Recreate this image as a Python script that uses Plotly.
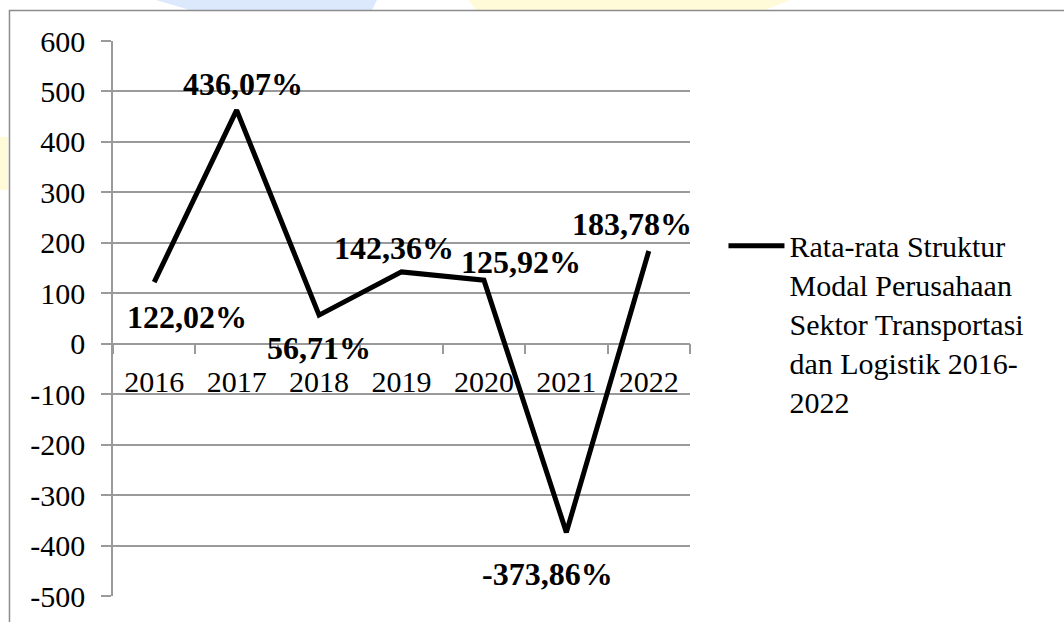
import plotly.graph_objects as go

years = ["2016", "2017", "2018", "2019", "2020", "2021", "2022"]
values = [122.02, 463.0, 56.71, 142.36, 125.92, -373.86, 183.78]
labels = ["122,02%", "436,07%", "56,71%", "142,36%", "125,92%", "-373,86%", "183,78%"]
series_name = "Rata-rata Struktur<br>Modal Perusahaan<br>Sektor Transportasi<br>dan Logistik 2016-<br>2022"
y_ticks = [600, 500, 400, 300, 200, 100, 0, -100, -200, -300, -400, -500]
y_tick_text = ["600", "500", "400", "300", "200", "100", "0", "-100", "-200", "-300", "-400", "-500"]

# label offsets in pixels (styling)
label_dx = [33, 6, 0, -8, 37, -19, -17]
label_dy = [-35, 26, -33, 24, 18, -42, 27]

FONT = "Liberation Serif"
GRID = "#9a9a9a"
ymin, ymax = -500, 600

fig = go.Figure()
fig.add_trace(go.Scatter(
    x=years, y=values, mode="lines", name=series_name,
    line=dict(color="black", width=5),
    showlegend=True,
))

annotations = []
for i, (v, t, dx, dy) in enumerate(zip(values, labels, label_dx, label_dy)):
    annotations.append(dict(
        x=i, y=v, xref="x", yref="y", text="<b>" + t + "</b>",
        showarrow=False, xshift=dx, yshift=dy,
        xanchor="center", yanchor="middle",
        font=dict(family=FONT, size=32, color="black")))

zero_pos = (0 - ymin) / (ymax - ymin)

# watermark remnants and outer frame (paper coords: plot area 113..690 x, 41..596 y)
W, H, L, T = 577.0, 555.0, 113.0, 41.0
def px(x):
    return (x - L) / W
def py(y):
    return 1 - (y - T) / H

shapes = [
    dict(type="path", xref="paper", yref="paper",
         path=f"M{px(156):.4f},{py(0):.4f} L{px(377):.4f},{py(0):.4f} L{px(372):.4f},{py(10):.4f} L{px(190):.4f},{py(10):.4f} Z",
         fillcolor="#dce8fb", line=dict(width=0), layer="below"),
    dict(type="path", xref="paper", yref="paper",
         path=f"M{px(468):.4f},{py(0):.4f} L{px(790):.4f},{py(0):.4f} L{px(765):.4f},{py(10):.4f} L{px(476):.4f},{py(10):.4f} Z",
         fillcolor="#fffbd8", line=dict(width=0), layer="below"),
    dict(type="rect", xref="paper", yref="paper",
         x0=px(0), x1=px(8), y0=py(190), y1=py(137),
         fillcolor="#fffbd8", line=dict(width=0), layer="below"),
    dict(type="path", xref="paper", yref="paper",
         path=f"M{px(9.5):.4f},{py(640):.4f} L{px(9.5):.4f},{py(10.5):.4f} L{px(1070):.4f},{py(10.5):.4f}",
         line=dict(color="#8c8c8c", width=1.5)),
]

fig.update_layout(
    width=1064, height=622,
    margin=dict(l=113, r=374, t=41, b=26, autoexpand=False),
    paper_bgcolor="white", plot_bgcolor="white",
    font=dict(family=FONT, size=30, color="black"),
    showlegend=True,
    annotations=annotations,
    shapes=shapes,
    legend=dict(x=1.058, y=0.678, xanchor="left", yanchor="top",
                font=dict(family=FONT, size=30, color="black"),
                bgcolor="rgba(0,0,0,0)", valign="top", itemwidth=56,
                tracegroupgap=0),
    xaxis=dict(
        type="category", anchor="free", position=zero_pos,
        showline=True, linecolor=GRID, linewidth=1.5,
        ticks="outside", ticklen=10, tickcolor=GRID, tickwidth=1.5,
        tickson="boundaries", showgrid=False, zeroline=False,
        tickfont=dict(family=FONT, size=30, color="black"),
        ticklabelstandoff=12,
        layer="below traces",
        range=[-0.5, 6.5],
    ),
    yaxis=dict(
        range=[ymin, ymax], tickvals=y_ticks, ticktext=y_tick_text,
        showline=True, linecolor=GRID, linewidth=1.5,
        ticks="outside", ticklen=10, tickcolor=GRID, tickwidth=1.5,
        showgrid=True, gridcolor=GRID, gridwidth=1.5, zeroline=False,
        tickfont=dict(family=FONT, size=30, color="black"),
        ticklabelstandoff=10,
        layer="below traces",
    ),
)

fig.write_html("out.html")
